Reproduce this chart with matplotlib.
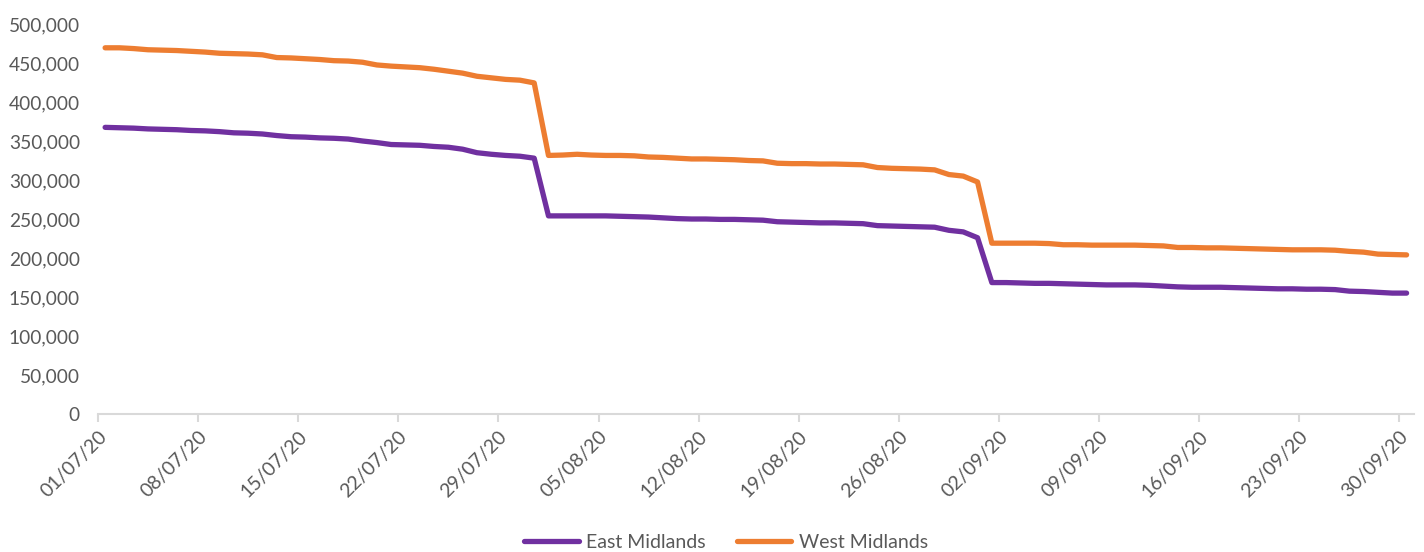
import numpy as np
import matplotlib
matplotlib.use("Agg")
import matplotlib.pyplot as plt
from matplotlib.ticker import FuncFormatter

# daily values 01/07/20 - 30/09/20 (thousands)
east_midlands = [367.5, 367.0, 366.5, 365.5, 365.0, 364.5, 363.5, 363.0, 362.0, 360.5,
                 360.0, 359.0, 357.0, 355.5, 355.0, 354.0, 353.5, 352.5, 350.0, 348.0,
                 345.5, 345.0, 344.5, 343.0, 342.0, 339.5, 335.0, 333.0, 331.5, 330.5,
                 328.0, 254.0, 254.0, 254.0, 254.0, 254.0, 253.5, 253.0, 252.5, 251.5,
                 250.5, 250.0, 250.0, 249.5, 249.5, 249.0, 248.5, 246.5, 246.0, 245.5,
                 245.0, 245.0, 244.5, 244.0, 241.5, 241.0, 240.5, 240.0, 239.5, 235.5,
                 233.5, 226.0, 168.5, 168.5, 168.0, 167.5, 167.5, 167.0, 166.5, 166.0,
                 165.5, 165.5, 165.5, 165.0, 164.0, 163.0, 162.5, 162.5, 162.5, 162.0,
                 161.5, 161.0, 160.5, 160.5, 160.0, 160.0, 159.5, 157.5, 157.0, 156.0,
                 155.0, 155.0]
west_midlands = [469.5, 469.5, 468.5, 467.0, 466.5, 466.0, 465.0, 464.0, 462.5, 462.0,
                 461.5, 460.5, 457.0, 456.5, 455.5, 454.5, 453.0, 452.5, 451.0, 447.5,
                 446.0, 445.0, 444.0, 442.0, 439.5, 437.0, 433.0, 431.0, 429.0, 428.0,
                 424.5, 331.5, 332.0, 333.0, 332.0, 331.5, 331.5, 331.0, 329.5, 329.0,
                 328.0, 327.0, 327.0, 326.5, 326.0, 325.0, 324.5, 321.5, 321.0, 321.0,
                 320.5, 320.5, 320.0, 319.5, 316.0, 315.0, 314.5, 314.0, 313.0, 307.0,
                 305.0, 297.5, 219.0, 219.0, 219.0, 219.0, 218.5, 217.0, 217.0, 216.5,
                 216.5, 216.5, 216.5, 216.0, 215.5, 213.5, 213.5, 213.0, 213.0, 212.5,
                 212.0, 211.5, 211.0, 210.5, 210.5, 210.5, 210.0, 208.5, 207.5, 205.0,
                 204.5, 204.0]
tick_labels = ["01/07/20", "08/07/20", "15/07/20", "22/07/20", "29/07/20", "05/08/20",
               "12/08/20", "19/08/20", "26/08/20", "02/09/20", "09/09/20", "16/09/20",
               "23/09/20", "30/09/20"]

plt.rcParams['font.family'] = ['Lato', 'DejaVu Sans']
grey = '#595959'

fig = plt.figure(figsize=(14.24, 5.52), dpi=100)
ax = fig.add_axes([0.0688, 0.25, 0.924, 0.7065])

days = np.arange(len(east_midlands)) + 0.5
ax.plot(days, np.array(east_midlands) * 1000, color='#7030a0', lw=3.8,
        solid_capstyle='round', solid_joinstyle='round', label='East Midlands')
ax.plot(days, np.array(west_midlands) * 1000, color='#ed7d31', lw=3.8,
        solid_capstyle='round', solid_joinstyle='round', label='West Midlands')

ax.set_xlim(0, len(east_midlands))
ax.set_ylim(0, 500000)
ax.set_yticks(np.arange(0, 500001, 50000))
ax.yaxis.set_major_formatter(FuncFormatter(lambda v, p: f"{int(v):,}"))
ax.set_xticks(np.arange(0, len(east_midlands), 7))
ax.set_xticklabels(tick_labels, rotation=45, ha='right', rotation_mode='anchor')

for s in ['top', 'right', 'left']:
    ax.spines[s].set_visible(False)
ax.spines['bottom'].set_color('#d9d9d9')
ax.spines['bottom'].set_linewidth(1.5)
ax.tick_params(axis='y', length=0, labelsize=13.8, labelcolor=grey, pad=13)
ax.tick_params(axis='x', length=6, width=1.5, color='#d9d9d9', labelsize=14,
               labelcolor=grey, pad=4)

fig.legend(loc='lower center', bbox_to_anchor=(0.51, -0.03), ncol=2, frameon=False,
           fontsize=14, labelcolor=grey, handlelength=2.8, handletextpad=0.4,
           columnspacing=1.6)

fig.savefig('out.png', dpi=100)
